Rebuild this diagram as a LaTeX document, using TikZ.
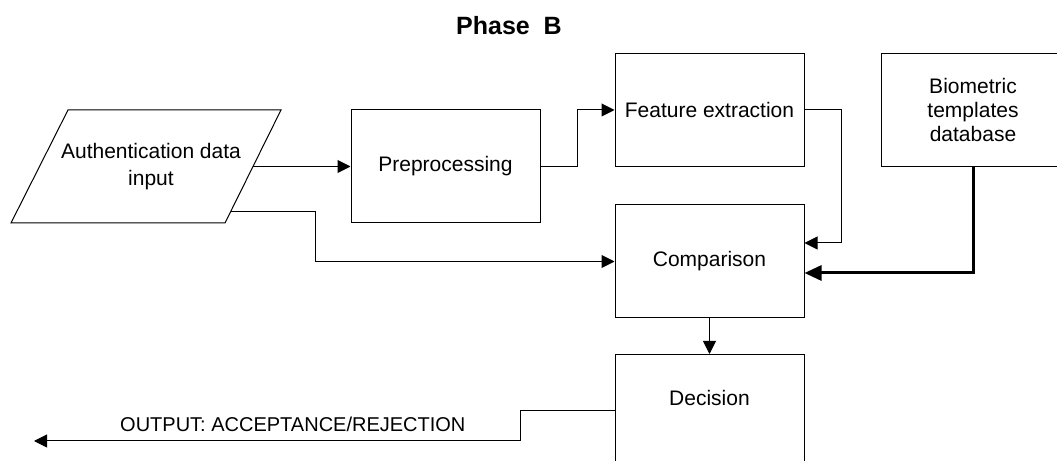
\documentclass[tikz,border=0pt]{standalone}
\usepackage{fontspec}
\setmainfont{Liberation Sans}
\usetikzlibrary{arrows.meta}

\begin{document}
\begin{tikzpicture}[x=0.5pt,y=0.5pt,
	box/.style={draw,line width=0.5pt,minimum width=94.5pt,minimum height=56.5pt,inner sep=0pt,align=center,font=\fontsize{10.5}{12}\selectfont},
	wire/.style={line width=0.5pt,-{Triangle[length=6.5pt,width=6.5pt]}},
	bigwire/.style={line width=1.5pt,-{Triangle[length=8.5pt,width=7.5pt]}}]
	\clip (0,0) rectangle (1057,461);
	\node[font=\bfseries\fontsize{12.5}{15}\selectfont] (title) at (509,435) {Phase\ \ B};
	\draw[line width=0.5pt] (68,351) -- (281,351) -- (225,238) -- (11,238) -- cycle;
	\node[align=center,font=\fontsize{10.5}{13.5}\selectfont] (auth) at (151,294.5) {Authentication data\\input};
	\coordinate (authE) at (253,294.5);
	\coordinate (authSE) at (230.5,249);
	\node[box] (pre) at (445.5,294.5) {Preprocessing};
	\node[box] (feat) at (709.5,351) {Feature extraction};
	\node[box,minimum width=92pt] (bio) at (973,351) {Biometric\\templates\\database};
	\node[box] (comp) at (709.5,199.5) {Comparison};
	\node[box,anchor=north] (dec) at (709.5,107) {};
	\node[font=\fontsize{10.5}{12}\selectfont] (declabel) at (709.5,63) {Decision};
	\coordinate (out) at (34,20);
	\draw[wire] (authE) -- (pre.west);
	\draw[wire] (pre.east) -- ++(37,0) |- (feat.west);
	\draw[wire] (feat.east) -- ++(37,0) |- ([yshift=9.25pt]comp.east);
	\draw[bigwire] (bio.south) |- ([yshift=-5.75pt]comp.east);
	\draw[wire] (authSE) -- ++(84.5,0) |- (comp.west);
	\draw[wire] (comp.south) -- (dec.north);
	\draw[wire] (dec.west) -- ++(-94,0) |- (out)
		node[pos=0.734,above=1pt,font=\fontsize{10}{12}\selectfont] {OUTPUT: ACCEPTANCE/REJECTION};
\end{tikzpicture}
\end{document}
